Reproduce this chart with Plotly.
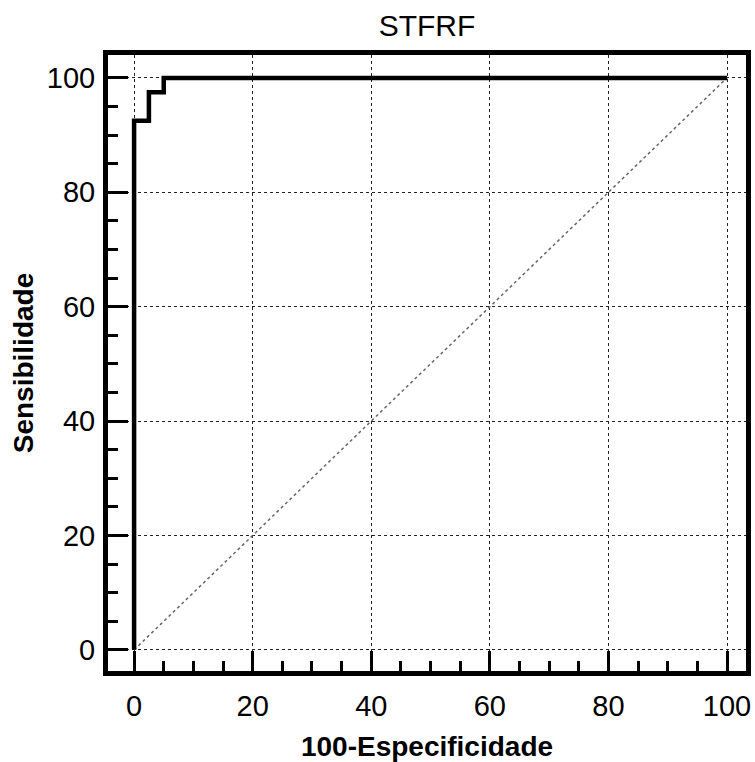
import plotly.graph_objects as go

# ROC curve data (100-Especificidade, Sensibilidade)
fpr = [0, 0, 2.5, 2.5, 5, 5, 100]
tpr = [0, 92.5, 92.5, 97.5, 97.5, 100, 100]
diag_x = [0, 100]
diag_y = [0, 100]
tick_vals = [0, 20, 40, 60, 80, 100]
tick_text = ["0", "20", "40", "60", "80", "100"]

fig = go.Figure()
fig.add_trace(go.Scatter(x=diag_x, y=diag_y, mode="lines",
                         line=dict(color="#666666", width=1.5, dash="dot"),
                         hoverinfo="skip", showlegend=False))
fig.add_trace(go.Scatter(x=fpr, y=tpr, mode="lines",
                         line=dict(color="black", width=4.5, shape="linear"),
                         showlegend=False))

font_family = "Liberation Sans, Arial, sans-serif"
axis_common = dict(
    tickvals=tick_vals, ticktext=tick_text,
    ticks="inside", ticklen=20, tickwidth=2.5, tickcolor="black",
    showline=True, linewidth=5, linecolor="black", mirror=True,
    showgrid=True, gridcolor="#222222", gridwidth=1, griddash="dot",
    zeroline=False, automargin=False,
    minor=dict(ticks="inside", dtick=5, ticklen=10, tickwidth=2.5,
               tickcolor="black", showgrid=False),
    tickfont=dict(family=font_family, size=29, color="black"),
)

fig.update_layout(
    width=755, height=762,
    margin=dict(l=108, r=9, t=55, b=91),
    paper_bgcolor="white", plot_bgcolor="white",
    title=dict(text="STFRF", xref="paper", x=0.5, xanchor="center",
               y=0.966, yanchor="middle",
               font=dict(family=font_family, size=30, color="black")),
    xaxis=dict(range=[-4.4, 103.2], ticklabelstandoff=5,
               title=dict(text="<b>100-Especificidade</b>", standoff=18,
                          font=dict(family=font_family, size=28, color="black")),
               **axis_common),
    yaxis=dict(range=[-3.7, 104], ticklabelstandoff=2,
               title=dict(text="<b>Sensibilidade</b>", standoff=7,
                          font=dict(family=font_family, size=28, color="black")),
               **axis_common),
)

fig.write_html("out.html")
